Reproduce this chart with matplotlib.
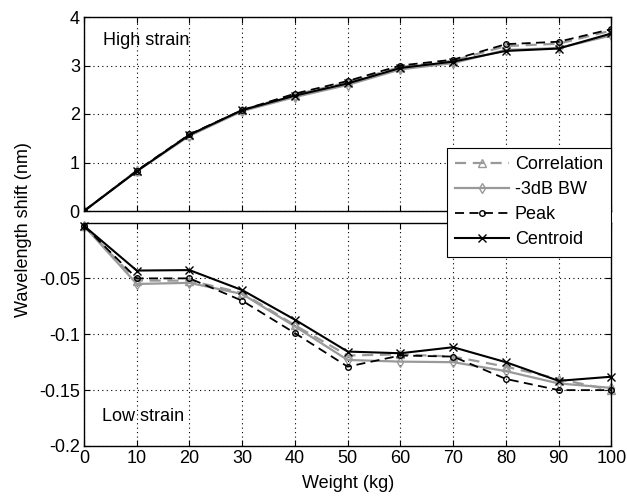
import matplotlib.pyplot as plt

plt.rcParams["font.family"] = ["Liberation Sans", "DejaVu Sans"]
plt.rcParams["font.size"] = 13

weight = [0, 10, 20, 30, 40, 50, 60, 70, 80, 90, 100]

# high strain (nm)
corr_high = [0, 0.83, 1.57, 2.08, 2.40, 2.65, 2.97, 3.10, 3.40, 3.45, 3.72]
bw_high = [0, 0.82, 1.55, 2.06, 2.35, 2.60, 2.92, 3.05, 3.32, 3.36, 3.62]
peak_high = [0, 0.83, 1.58, 2.08, 2.42, 2.68, 3.00, 3.12, 3.44, 3.49, 3.75]
cent_high = [0, 0.82, 1.57, 2.08, 2.38, 2.63, 2.95, 3.08, 3.30, 3.35, 3.66]

# low strain (nm)
corr_low = [-0.003, -0.052, -0.052, -0.063, -0.092, -0.119, -0.118, -0.120, -0.129, -0.140, -0.150]
bw_low = [-0.003, -0.055, -0.054, -0.064, -0.093, -0.123, -0.1245, -0.125, -0.133, -0.144, -0.148]
peak_low = [-0.003, -0.050, -0.050, -0.070, -0.099, -0.129, -0.119, -0.120, -0.140, -0.150, -0.150]
cent_low = [-0.003, -0.043, -0.0426, -0.0605, -0.087, -0.1155, -0.117, -0.1116, -0.125, -0.1417, -0.138]

gray = "#999999"
styles = [
    dict(color=gray, ls=(0, (5, 3)), marker="^", mfc="none", ms=6, lw=1.6, label="Correlation"),
    dict(color=gray, ls="-", marker="d", mfc="none", ms=5, lw=1.6, label="-3dB BW"),
    dict(color="black", ls=(0, (5, 3)), marker="o", mfc="none", ms=4, lw=1.3, label="Peak"),
    dict(color="black", ls="-", marker="x", ms=6, lw=1.5, label="Centroid"),
]

fig = plt.figure(figsize=(6.27, 5.0), dpi=100)
ax1 = fig.add_axes([0.134, 0.578, 0.841, 0.388])
ax2 = fig.add_axes([0.134, 0.108, 0.841, 0.447])

for ys, st in zip([corr_high, bw_high, peak_high, cent_high], styles):
    ax1.plot(weight, ys, **st)
lines = []
for ys, st in zip([corr_low, bw_low, peak_low, cent_low], styles):
    lines += ax2.plot(weight, ys, clip_on=False, **st)

ax1.set_xlim(0, 100)
ax1.set_ylim(0, 4)
ax1.set_yticks([0, 1, 2, 3, 4])
ax1.set_xticks(weight)
ax1.set_xticklabels([])

ax2.set_xlim(0, 100)
ax2.set_ylim(-0.2, 0)
ax2.set_yticks([-0.2, -0.15, -0.1, -0.05])
ax2.set_yticklabels(["-0.2", "-0.15", "-0.1", "-0.05"])
ax2.set_xticks(weight)

for ax in (ax1, ax2):
    ax.grid(True, color="black", ls=(0, (1, 3)), lw=0.8)
    ax.tick_params(direction="in", top=True, right=True, length=4, pad=3)
    for sp in ax.spines.values():
        sp.set_linewidth(1.0)

ax1.text(0.036, 0.88, "High strain", transform=ax1.transAxes, va="center")
ax2.text(0.034, 0.13, "Low strain", transform=ax2.transAxes, va="center")

ax2.set_xlabel("Weight (kg)", labelpad=6)
fig.text(0.037, 0.54, "Wavelength shift (nm)", rotation=90, ha="center", va="center")

leg = fig.legend(handles=lines, loc="upper right", bbox_to_anchor=(611 / 627, 1 - 148 / 500),
                 fancybox=False, framealpha=1, edgecolor="black", borderaxespad=0,
                 handlelength=3.0, handletextpad=0.3, labelspacing=0.45, borderpad=0.45)
leg.get_frame().set_linewidth(0.8)

fig.savefig("out.png", dpi=100)
